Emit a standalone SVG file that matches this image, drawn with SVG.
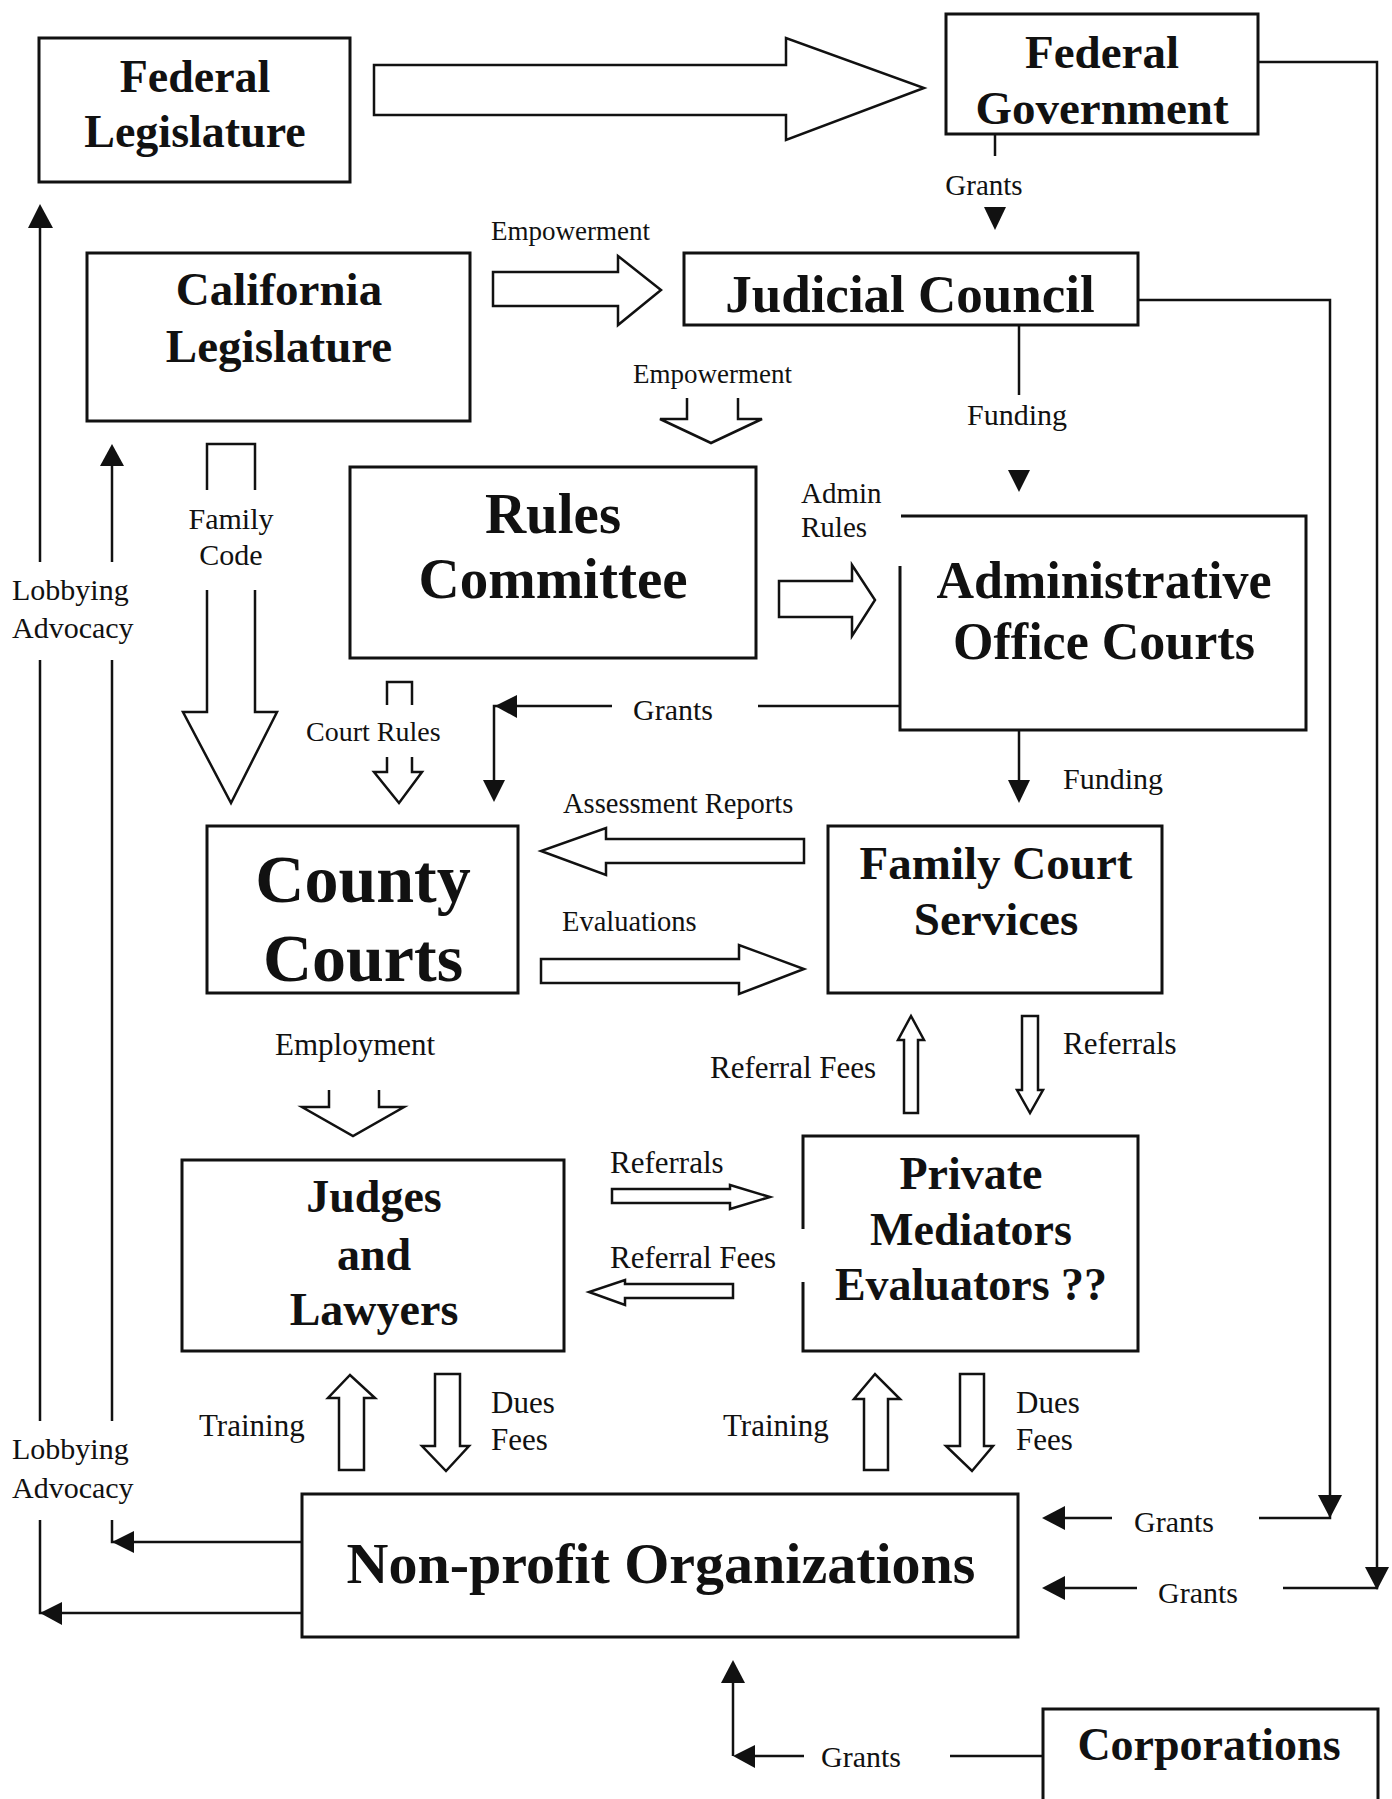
<svg xmlns="http://www.w3.org/2000/svg" width="1392" height="1799" viewBox="0 0 1392 1799">
<style>
.box{fill:#fff;stroke:#111;stroke-width:3}
.open{fill:none;stroke:#111;stroke-width:3}
.ln{fill:none;stroke:#111;stroke-width:2.5}
.blk{fill:#fff;stroke:#111;stroke-width:2.5;stroke-linejoin:miter}
.oa{fill:none;stroke:#111;stroke-width:2.5}
.hd{fill:#111;stroke:none}
.t{font-family:"Liberation Serif","Times New Roman",serif;font-weight:bold;fill:#111;text-anchor:middle}
.s{font-family:"Liberation Serif","Times New Roman",serif;fill:#111}
.c{text-anchor:middle}
</style>
<rect width="1392" height="1799" fill="#fff"/>

<g id="connectors">
  <!-- Federal Legislature -> Federal Government big arrow -->
  <polygon class="blk" points="374,65 786,65 786,38 924,88 786,140 786,115 374,115"/>
  <!-- Empowerment CA -> JC -->
  <polygon class="blk" points="493,272 618,272 618,256 661,290 618,325 618,306 493,306"/>
  <!-- Empowerment JC -> Rules -->
  <path class="oa" d="M687,398 V419 H660 L711,443 L762,419 H738 V398"/>
  <!-- FG -> JC grants -->
  <line class="ln" x1="995" y1="134" x2="995" y2="156"/>
  <polygon class="hd" points="984,207 1006,207 995,230"/>
  <!-- JC -> AOC funding -->
  <line class="ln" x1="1019" y1="325" x2="1019" y2="395"/>
  <polygon class="hd" points="1008,470 1030,470 1019,492"/>
  <!-- Family Code arrow -->
  <path class="oa" d="M207,490 V444 H255 V490"/>
  <path class="blk" d="M207,590 V712 H183 L231,803 L277,712 H255 V590"/>
  <!-- Court Rules arrow -->
  <path class="oa" d="M387,705 V682 H412 V705"/>
  <path class="blk" d="M387,757 V772 H374 L399,803 L422,772 H412 V757"/>
  <!-- Admin Rules arrow -->
  <polygon class="blk" points="779,581 852,581 852,565 875,600 852,636 852,617 779,617"/>
  <!-- AOC -> County grants -->
  <line class="ln" x1="899" y1="706" x2="758" y2="706"/>
  <polyline class="ln" points="612,706 494,706 494,782"/>
  <polygon class="hd" points="495,706 517,695 517,718"/>
  <polygon class="hd" points="483,780 505,780 494,802"/>
  <!-- AOC -> FCS funding -->
  <line class="ln" x1="1019" y1="731" x2="1019" y2="782"/>
  <polygon class="hd" points="1008,780 1030,780 1019,803"/>
  <!-- Assessment Reports -->
  <polygon class="blk" points="804,839 606,839 606,828 541,851 606,875 606,863 804,863"/>
  <!-- Evaluations -->
  <polygon class="blk" points="541,959 739,959 739,945 804,969 739,994 739,983 541,983"/>
  <!-- Employment -->
  <path class="oa" d="M329,1090 V1107 H302 L353,1136 L404,1107 H379 V1090"/>
  <!-- PM -> FCS Referral fees -->
  <polygon class="blk" points="904,1113 904,1040 898,1040 911,1016 924,1040 918,1040 918,1113"/>
  <!-- FCS -> PM Referrals -->
  <polygon class="blk" points="1022,1016 1022,1090 1017,1090 1030,1113 1043,1090 1038,1090 1038,1016"/>
  <!-- Judges -> PM referrals -->
  <polygon class="blk" points="612,1189 730,1189 730,1185 770,1197 730,1209 730,1203 612,1203"/>
  <!-- PM -> Judges referral fees -->
  <polygon class="blk" points="733,1284 625,1284 625,1280 589,1292 625,1305 625,1298 733,1298"/>
  <!-- Training / Dues -->
  <polygon class="blk" points="339,1470 339,1398 328,1398 350,1375 375,1398 364,1398 364,1470"/>
  <polygon class="blk" points="435,1374 435,1446 422,1446 446,1471 469,1446 460,1446 460,1374"/>
  <polygon class="blk" points="864,1470 864,1399 854,1399 875,1374 900,1399 888,1399 888,1470"/>
  <polygon class="blk" points="960,1374 960,1446 946,1446 972,1471 993,1446 984,1446 984,1374"/>
  <!-- Lobbying lines -->
  <polyline class="ln" points="40,226 40,562"/>
  <line class="ln" x1="40" y1="660" x2="40" y2="1421"/>
  <polyline class="ln" points="40,1520 40,1613 302,1613"/>
  <polygon class="hd" points="40,204 28,228 53,228"/>
  <polygon class="hd" points="40,1613 62,1602 62,1625"/>
  <polyline class="ln" points="112,464 112,562"/>
  <line class="ln" x1="112" y1="660" x2="112" y2="1421"/>
  <polyline class="ln" points="112,1520 112,1542 302,1542"/>
  <polygon class="hd" points="112,444 100,466 124,466"/>
  <polygon class="hd" points="112,1542 134,1531 134,1553"/>
  <!-- JC -> NPO grants -->
  <polyline class="ln" points="1138,300 1330,300 1330,1518 1259,1518"/>
  <polygon class="hd" points="1318,1495 1342,1495 1330,1518"/>
  <line class="ln" x1="1112" y1="1518" x2="1060" y2="1518"/>
  <polygon class="hd" points="1042,1518 1065,1506 1065,1530"/>
  <!-- FG -> NPO grants -->
  <polyline class="ln" points="1258,62 1377,62 1377,1588 1283,1588"/>
  <polygon class="hd" points="1365,1567 1389,1567 1377,1590"/>
  <line class="ln" x1="1137" y1="1588" x2="1060" y2="1588"/>
  <polygon class="hd" points="1042,1588 1065,1576 1065,1600"/>
  <!-- Corporations -> NPO grants -->
  <line class="ln" x1="1043" y1="1756" x2="950" y2="1756"/>
  <line class="ln" x1="804" y1="1756" x2="750" y2="1756"/>
  <polygon class="hd" points="733,1756 755,1745 755,1768"/>
  <line class="ln" x1="733" y1="1756" x2="733" y2="1680"/>
  <polygon class="hd" points="733,1660 721,1683 745,1683"/>
</g>

<g id="labels" class="s">
  <text x="491" y="240" font-size="27">Empowerment</text>
  <text x="984" y="195" font-size="29" class="c">Grants</text>
  <text x="633" y="383" font-size="27">Empowerment</text>
  <text x="967" y="425" font-size="30">Funding</text>
  <text x="801" y="503" font-size="29">Admin</text>
  <text x="801" y="537" font-size="29">Rules</text>
  <text x="231" y="529" font-size="30" class="c">Family</text>
  <text x="231" y="565" font-size="30" class="c">Code</text>
  <text x="12" y="600" font-size="30">Lobbying</text>
  <text x="12" y="638" font-size="30">Advocacy</text>
  <text x="12" y="1459" font-size="30">Lobbying</text>
  <text x="12" y="1498" font-size="30">Advocacy</text>
  <text x="306" y="741" font-size="28">Court Rules</text>
  <text x="633" y="720" font-size="30">Grants</text>
  <text x="1063" y="789" font-size="30">Funding</text>
  <text x="563" y="813" font-size="28.5">Assessment Reports</text>
  <text x="562" y="931" font-size="28.5">Evaluations</text>
  <text x="275" y="1055" font-size="31">Employment</text>
  <text x="710" y="1078" font-size="31">Referral Fees</text>
  <text x="1063" y="1054" font-size="31">Referrals</text>
  <text x="610" y="1173" font-size="31">Referrals</text>
  <text x="610" y="1268" font-size="31">Referral Fees</text>
  <text x="199" y="1436" font-size="31">Training</text>
  <text x="491" y="1413" font-size="31">Dues</text>
  <text x="491" y="1450" font-size="31">Fees</text>
  <text x="723" y="1436" font-size="31">Training</text>
  <text x="1016" y="1413" font-size="31">Dues</text>
  <text x="1016" y="1450" font-size="31">Fees</text>
  <text x="1134" y="1532" font-size="30">Grants</text>
  <text x="1158" y="1603" font-size="30">Grants</text>
  <text x="821" y="1767" font-size="30">Grants</text>
</g>

<g id="federal-legislature">
  <rect class="box" x="39" y="38" width="311" height="144"/>
  <text class="t" x="195" y="92" font-size="46">Federal</text>
  <text class="t" x="195" y="147" font-size="46">Legislature</text>
</g>
<g id="federal-government">
  <rect class="box" x="946" y="14" width="312" height="120"/>
  <text class="t" x="1102" y="68" font-size="47">Federal</text>
  <text class="t" x="1102" y="124" font-size="47">Government</text>
</g>
<g id="california-legislature">
  <rect class="box" x="87" y="253" width="383" height="168"/>
  <text class="t" x="279" y="305" font-size="47">California</text>
  <text class="t" x="279" y="362" font-size="47">Legislature</text>
</g>
<g id="judicial-council">
  <rect class="box" x="684" y="253" width="454" height="72"/>
  <text class="t" x="910" y="312" font-size="53">Judicial Council</text>
</g>
<g id="rules-committee">
  <rect class="box" x="350" y="467" width="406" height="191"/>
  <text class="t" x="553" y="533" font-size="57">Rules</text>
  <text class="t" x="553" y="598" font-size="57">Committee</text>
</g>
<g id="administrative-office-courts">
  <path class="open" d="M900,566 V730 H1306 V516 H901"/>
  <text class="t" x="1104" y="598" font-size="52">Administrative</text>
  <text class="t" x="1104" y="659" font-size="52">Office Courts</text>
</g>
<g id="county-courts">
  <rect class="box" x="207" y="826" width="311" height="167"/>
  <text class="t" x="363" y="902" font-size="68">County</text>
  <text class="t" x="363" y="981" font-size="68">Courts</text>
</g>
<g id="family-court-services">
  <rect class="box" x="828" y="826" width="334" height="167"/>
  <text class="t" x="996" y="879" font-size="47">Family Court</text>
  <text class="t" x="996" y="935" font-size="47">Services</text>
</g>
<g id="judges-lawyers">
  <rect class="box" x="182" y="1160" width="382" height="191"/>
  <text class="t" x="374" y="1212" font-size="46">Judges</text>
  <text class="t" x="374" y="1270" font-size="46">and</text>
  <text class="t" x="374" y="1325" font-size="46">Lawyers</text>
</g>
<g id="private-mediators">
  <path class="open" d="M803,1229 V1136 H1138 V1351 H803 V1282"/>
  <text class="t" x="971" y="1189" font-size="46">Private</text>
  <text class="t" x="971" y="1245" font-size="46">Mediators</text>
  <text class="t" x="971" y="1300" font-size="46">Evaluators ??</text>
</g>
<g id="non-profit-organizations">
  <rect class="box" x="302" y="1494" width="716" height="143"/>
  <text class="t" x="661" y="1583" font-size="58">Non-profit Organizations</text>
</g>
<g id="corporations">
  <rect class="box" x="1043" y="1709" width="335" height="110"/>
  <text class="t" x="1209" y="1760" font-size="46">Corporations</text>
</g>
</svg>
